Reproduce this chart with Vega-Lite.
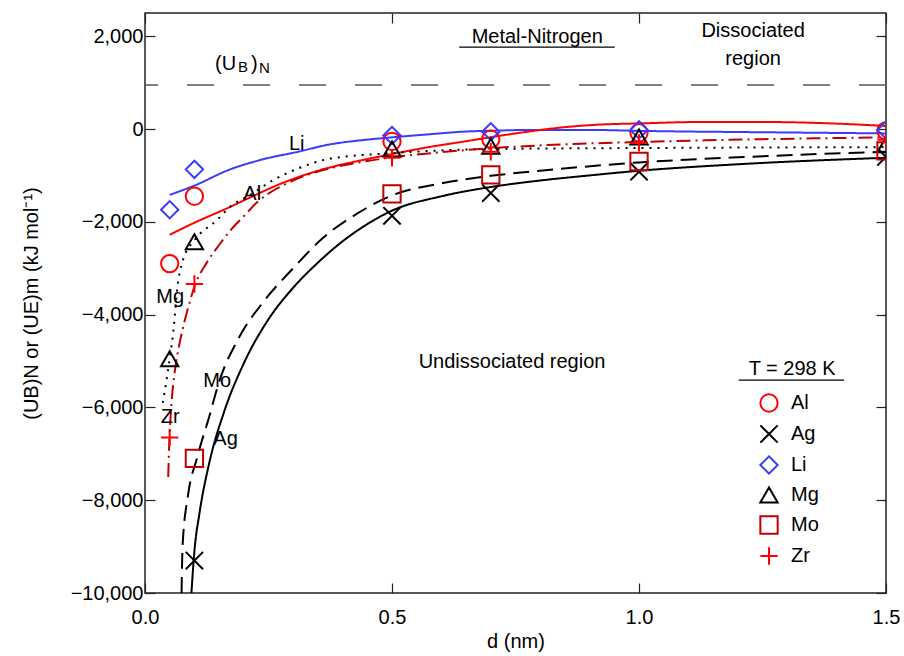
{
  "$schema": "https://vega.github.io/schema/vega-lite/v6.json",
  "width": 741,
  "height": 580,
  "autosize": {"type": "none"},
  "padding": {"left": 145, "top": 13, "right": 18, "bottom": 63},
  "background": "white",
  "config": {
    "font": "Liberation Sans",
    "view": {"stroke": "#222", "strokeWidth": 1.5},
    "axis": {"labelFont": "Liberation Sans", "titleFont": "Liberation Sans", "labelFontSize": 20, "titleFontSize": 20, "labelColor": "#000", "titleColor": "#000", "tickColor": "#222", "domainColor": "#222", "grid": false, "titleFontWeight": "normal", "tickWidth": 1.2, "domain": false, "labelFlush": false},
    "legend": {"labelFont": "Liberation Sans", "labelFontSize": 20, "labelColor": "#000"}
  },
  "datasets": {
    "pts": [
      {"metal": "Al", "d": 0.05, "U": -2900}, {"metal": "Al", "d": 0.1, "U": -1450}, {"metal": "Al", "d": 0.5, "U": -270}, {"metal": "Al", "d": 0.7, "U": -220}, {"metal": "Al", "d": 1.0, "U": -80}, {"metal": "Al", "d": 1.5, "U": -40},
      {"metal": "Ag", "d": 0.1, "U": -9300}, {"metal": "Ag", "d": 0.5, "U": -1870}, {"metal": "Ag", "d": 0.7, "U": -1380}, {"metal": "Ag", "d": 1.0, "U": -920}, {"metal": "Ag", "d": 1.5, "U": -600},
      {"metal": "Li", "d": 0.05, "U": -1740}, {"metal": "Li", "d": 0.1, "U": -870}, {"metal": "Li", "d": 0.5, "U": -140}, {"metal": "Li", "d": 0.7, "U": -60}, {"metal": "Li", "d": 1.0, "U": -20}, {"metal": "Li", "d": 1.5, "U": -20},
      {"metal": "Mg", "d": 0.05, "U": -4950}, {"metal": "Mg", "d": 0.1, "U": -2430}, {"metal": "Mg", "d": 0.5, "U": -430}, {"metal": "Mg", "d": 0.7, "U": -370}, {"metal": "Mg", "d": 1.0, "U": -170}, {"metal": "Mg", "d": 1.5, "U": -340},
      {"metal": "Mo", "d": 0.1, "U": -7100}, {"metal": "Mo", "d": 0.5, "U": -1400}, {"metal": "Mo", "d": 0.7, "U": -990}, {"metal": "Mo", "d": 1.0, "U": -700}, {"metal": "Mo", "d": 1.5, "U": -470},
      {"metal": "Zr", "d": 0.05, "U": -6650}, {"metal": "Zr", "d": 0.1, "U": -3340}, {"metal": "Zr", "d": 0.5, "U": -620}, {"metal": "Zr", "d": 0.7, "U": -490}, {"metal": "Zr", "d": 1.0, "U": -300}, {"metal": "Zr", "d": 1.5, "U": -230}
    ],
    "curves": [
      {"curve": "Li", "d": 0.05, "U": -1420}, {"curve": "Li", "d": 0.1, "U": -1220}, {"curve": "Li", "d": 0.17, "U": -880}, {"curve": "Li", "d": 0.24, "U": -650}, {"curve": "Li", "d": 0.31, "U": -490}, {"curve": "Li", "d": 0.37, "U": -340}, {"curve": "Li", "d": 0.44, "U": -240}, {"curve": "Li", "d": 0.5, "U": -180}, {"curve": "Li", "d": 0.58, "U": -110}, {"curve": "Li", "d": 0.64, "U": -60}, {"curve": "Li", "d": 0.71, "U": -35}, {"curve": "Li", "d": 0.78, "U": -20}, {"curve": "Li", "d": 0.9, "U": -20}, {"curve": "Li", "d": 1.0, "U": -40}, {"curve": "Li", "d": 1.1, "U": -55}, {"curve": "Li", "d": 1.2, "U": -65}, {"curve": "Li", "d": 1.3, "U": -75}, {"curve": "Li", "d": 1.4, "U": -85}, {"curve": "Li", "d": 1.5, "U": -95},
      {"curve": "Al", "d": 0.05, "U": -2280}, {"curve": "Al", "d": 0.1, "U": -2020}, {"curve": "Al", "d": 0.17, "U": -1690}, {"curve": "Al", "d": 0.21, "U": -1490}, {"curve": "Al", "d": 0.27, "U": -1200}, {"curve": "Al", "d": 0.37, "U": -840}, {"curve": "Al", "d": 0.44, "U": -670}, {"curve": "Al", "d": 0.5, "U": -540}, {"curve": "Al", "d": 0.58, "U": -380}, {"curve": "Al", "d": 0.64, "U": -280}, {"curve": "Al", "d": 0.71, "U": -160}, {"curve": "Al", "d": 0.78, "U": -50}, {"curve": "Al", "d": 0.85, "U": 40}, {"curve": "Al", "d": 0.92, "U": 95}, {"curve": "Al", "d": 1.0, "U": 120}, {"curve": "Al", "d": 1.12, "U": 150}, {"curve": "Al", "d": 1.26, "U": 150}, {"curve": "Al", "d": 1.39, "U": 120}, {"curve": "Al", "d": 1.5, "U": 65},
      {"curve": "Mg", "d": 0.036, "U": -5900}, {"curve": "Mg", "d": 0.05, "U": -4950}, {"curve": "Mg", "d": 0.058, "U": -4300}, {"curve": "Mg", "d": 0.065, "U": -3460}, {"curve": "Mg", "d": 0.077, "U": -2820}, {"curve": "Mg", "d": 0.1, "U": -2400}, {"curve": "Mg", "d": 0.146, "U": -1960}, {"curve": "Mg", "d": 0.172, "U": -1680}, {"curve": "Mg", "d": 0.213, "U": -1420}, {"curve": "Mg", "d": 0.26, "U": -1100}, {"curve": "Mg", "d": 0.31, "U": -850}, {"curve": "Mg", "d": 0.374, "U": -640}, {"curve": "Mg", "d": 0.5, "U": -520}, {"curve": "Mg", "d": 0.71, "U": -430}, {"curve": "Mg", "d": 1.0, "U": -410}, {"curve": "Mg", "d": 1.5, "U": -390},
      {"curve": "Zr", "d": 0.047, "U": -7500}, {"curve": "Zr", "d": 0.049, "U": -6800}, {"curve": "Zr", "d": 0.053, "U": -6000}, {"curve": "Zr", "d": 0.06, "U": -5250}, {"curve": "Zr", "d": 0.07, "U": -4620}, {"curve": "Zr", "d": 0.08, "U": -4150}, {"curve": "Zr", "d": 0.09, "U": -3750}, {"curve": "Zr", "d": 0.1, "U": -3400}, {"curve": "Zr", "d": 0.125, "U": -2880}, {"curve": "Zr", "d": 0.15, "U": -2500}, {"curve": "Zr", "d": 0.175, "U": -2160}, {"curve": "Zr", "d": 0.2, "U": -1880}, {"curve": "Zr", "d": 0.227, "U": -1580}, {"curve": "Zr", "d": 0.25, "U": -1390}, {"curve": "Zr", "d": 0.273, "U": -1250}, {"curve": "Zr", "d": 0.32, "U": -1020}, {"curve": "Zr", "d": 0.374, "U": -850}, {"curve": "Zr", "d": 0.45, "U": -690}, {"curve": "Zr", "d": 0.5, "U": -610}, {"curve": "Zr", "d": 0.6, "U": -500}, {"curve": "Zr", "d": 0.72, "U": -400}, {"curve": "Zr", "d": 0.85, "U": -330}, {"curve": "Zr", "d": 1.0, "U": -280}, {"curve": "Zr", "d": 1.25, "U": -220}, {"curve": "Zr", "d": 1.5, "U": -180},
      {"curve": "Mo", "d": 0.074, "U": -10000}, {"curve": "Mo", "d": 0.076, "U": -9000}, {"curve": "Mo", "d": 0.087, "U": -7900}, {"curve": "Mo", "d": 0.105, "U": -7100}, {"curve": "Mo", "d": 0.13, "U": -6200}, {"curve": "Mo", "d": 0.15, "U": -5450}, {"curve": "Mo", "d": 0.19, "U": -4500}, {"curve": "Mo", "d": 0.24, "U": -3720}, {"curve": "Mo", "d": 0.3, "U": -3000}, {"curve": "Mo", "d": 0.36, "U": -2350}, {"curve": "Mo", "d": 0.43, "U": -1820}, {"curve": "Mo", "d": 0.5, "U": -1430}, {"curve": "Mo", "d": 0.6, "U": -1170}, {"curve": "Mo", "d": 0.7, "U": -1010}, {"curve": "Mo", "d": 0.8, "U": -900}, {"curve": "Mo", "d": 1.0, "U": -720}, {"curve": "Mo", "d": 1.2, "U": -610}, {"curve": "Mo", "d": 1.5, "U": -490},
      {"curve": "Ag", "d": 0.094, "U": -10000}, {"curve": "Ag", "d": 0.1, "U": -9100}, {"curve": "Ag", "d": 0.11, "U": -8300}, {"curve": "Ag", "d": 0.13, "U": -7200}, {"curve": "Ag", "d": 0.16, "U": -6100}, {"curve": "Ag", "d": 0.2, "U": -5050}, {"curve": "Ag", "d": 0.25, "U": -4100}, {"curve": "Ag", "d": 0.3, "U": -3420}, {"curve": "Ag", "d": 0.35, "U": -2880}, {"curve": "Ag", "d": 0.4, "U": -2420}, {"curve": "Ag", "d": 0.45, "U": -2050}, {"curve": "Ag", "d": 0.5, "U": -1760}, {"curve": "Ag", "d": 0.6, "U": -1450}, {"curve": "Ag", "d": 0.7, "U": -1250}, {"curve": "Ag", "d": 0.8, "U": -1110}, {"curve": "Ag", "d": 0.9, "U": -1000}, {"curve": "Ag", "d": 1.0, "U": -900}, {"curve": "Ag", "d": 1.2, "U": -760}, {"curve": "Ag", "d": 1.5, "U": -620}
    ],
    "labels": [
      {"d": 0.307, "U": -320, "text": "Li"},
      {"d": 0.217, "U": -1400, "text": "Al"},
      {"d": 0.051, "U": -3610, "text": "Mg"},
      {"d": 0.146, "U": -5440, "text": "Mo"},
      {"d": 0.051, "U": -6215, "text": "Zr"},
      {"d": 0.163, "U": -6690, "text": "Ag"},
      {"d": 0.794, "U": 1978, "text": "Metal-Nitrogen"},
      {"d": 1.231, "U": 2108, "text": "Dissociated"},
      {"d": 1.231, "U": 1505, "text": "region"},
      {"d": 0.743, "U": -5011, "text": "Undissociated region"},
      {"d": 1.31, "U": -5183, "text": "T = 298 K"}
    ],
    "underlines": [
      {"d": 0.636, "d2": 0.951, "U": 1763},
      {"d": 1.202, "d2": 1.415, "U": -5413}
    ],
    "ubMain": [
      {"d": 0.1417, "U": 1269, "text": "(U"},
      {"d": 0.2146, "U": 1269, "text": ")"}
    ],
    "ubSub": [
      {"d": 0.1883, "U": 1226, "text": "B"},
      {"d": 0.2308, "U": 1204, "text": "N"}
    ]
  },
  "layer": [
    {
      "data": {"values": [{"U": 950}]},
      "mark": {"type": "rule", "color": "#555", "strokeWidth": 1.5, "strokeDash": [27, 29]},
      "encoding": {
        "y": {"field": "U", "type": "quantitative", "scale": {"domain": [-10000, 2500], "nice": false}, "axis": null}
      }
    },
    {
      "data": {"name": "curves"},
      "mark": {"type": "line", "interpolate": "monotone", "strokeWidth": 2, "clip": true},
      "encoding": {
        "x": {"field": "d", "type": "quantitative", "scale": {"domain": [0, 1.5], "nice": false}, "axis": null},
        "y": {"field": "U", "type": "quantitative", "scale": {"domain": [-10000, 2500], "nice": false}, "axis": null},
        "detail": {"field": "curve"},
        "stroke": {"field": "curve", "type": "nominal", "scale": {"domain": ["Li", "Al", "Mg", "Zr", "Mo", "Ag"], "range": ["#3a3aff", "#ff0000", "#000000", "#c00000", "#000000", "#000000"]}, "legend": null},
        "strokeDash": {"field": "curve", "type": "nominal", "scale": {"domain": ["Li", "Al", "Mg", "Zr", "Mo", "Ag"], "range": [[1, 0], [1, 0], [2, 6], [14, 5, 2, 5], [16, 8], [1, 0]]}, "legend": null}
      }
    },
    {
      "data": {"name": "pts"},
      "mark": {"type": "point", "filled": false, "strokeWidth": 2, "size": 300, "clip": true, "opacity": 1},
      "encoding": {
        "x": {"field": "d", "type": "quantitative", "scale": {"domain": [0, 1.5], "nice": false}, "title": "d (nm)", "axis": {"values": [0, 0.5, 1, 1.5], "format": ".1f", "tickSize": -10, "labelPadding": 24, "titlePadding": 4}},
        "y": {"field": "U", "type": "quantitative", "scale": {"domain": [-10000, 2500], "nice": false}, "title": "(UB)N or (UE)m (kJ mol⁻¹)", "axis": {"values": [-10000, -8000, -6000, -4000, -2000, 0, 2000], "format": ",.0f", "tickSize": -10, "labelPadding": 12, "titlePadding": 29}},
        "color": {"field": "metal", "type": "nominal", "scale": {"domain": ["Al", "Ag", "Li", "Mg", "Mo", "Zr"], "range": ["#ff0000", "#000000", "#3a3aff", "#000000", "#c00000", "#ff0000"]}, "legend": {"title": null, "orient": "none", "legendX": 614, "legendY": 380, "padding": 0, "rowPadding": 5, "labelOffset": 12, "symbolSize": 300, "symbolStrokeWidth": 2, "encode": {"symbols": {"shape": {"value": {"expr": "datum.value === 'Ag' ? 'M-1,-1L1,1M-1,1L1,-1M-2,0L2,0' : datum.value === 'Mo' ? 'M-1,-1L1,-1L1,1L-1,1ZM-2,0L2,0' : scale('shape', datum.value)"}}}}}},
        "shape": {"field": "metal", "type": "nominal", "scale": {"domain": ["Al", "Ag", "Li", "Mg", "Mo", "Zr"], "range": ["circle", "M-1,-1L1,1M-1,1L1,-1", "diamond", "triangle-up", "square", "M-1,0L1,0M0,-1L0,1"]}, "legend": {"title": null, "orient": "none", "legendX": 614, "legendY": 380, "padding": 0, "rowPadding": 5, "labelOffset": 12, "symbolSize": 300, "symbolStrokeWidth": 2, "encode": {"symbols": {"shape": {"value": {"expr": "datum.value === 'Ag' ? 'M-1,-1L1,1M-1,1L1,-1M-2,0L2,0' : datum.value === 'Mo' ? 'M-1,-1L1,-1L1,1L-1,1ZM-2,0L2,0' : scale('shape', datum.value)"}}}}}}
      }
    },
    {
      "data": {"values": [{"d": 0, "U": 0}]},
      "mark": {"type": "point", "opacity": 0},
      "encoding": {
        "x": {"field": "d", "type": "quantitative", "scale": {"domain": [0, 1.5], "nice": false}, "axis": {"orient": "top", "values": [0, 0.5, 1, 1.5], "labels": false, "tickSize": -10, "title": null}},
        "y": {"field": "U", "type": "quantitative", "scale": {"domain": [-10000, 2500], "nice": false}, "axis": {"orient": "right", "values": [-10000, -8000, -6000, -4000, -2000, 0, 2000], "labels": false, "tickSize": -10, "title": null}}
      }
    },
    {
      "data": {"name": "labels"},
      "mark": {"type": "text", "fontSize": 20, "align": "center", "baseline": "middle", "color": "#000"},
      "encoding": {
        "x": {"field": "d", "type": "quantitative", "scale": {"domain": [0, 1.5], "nice": false}, "axis": null},
        "y": {"field": "U", "type": "quantitative", "scale": {"domain": [-10000, 2500], "nice": false}, "axis": null},
        "text": {"field": "text"}
      }
    },
    {
      "data": {"name": "underlines"},
      "mark": {"type": "rule", "color": "#000", "strokeWidth": 1.3},
      "encoding": {
        "x": {"field": "d", "type": "quantitative", "scale": {"domain": [0, 1.5], "nice": false}, "axis": null},
        "x2": {"field": "d2"},
        "y": {"field": "U", "type": "quantitative", "scale": {"domain": [-10000, 2500], "nice": false}, "axis": null}
      }
    },
    {
      "data": {"name": "ubMain"},
      "mark": {"type": "text", "fontSize": 20, "align": "left", "baseline": "alphabetic", "color": "#000"},
      "encoding": {
        "x": {"field": "d", "type": "quantitative", "scale": {"domain": [0, 1.5], "nice": false}, "axis": null},
        "y": {"field": "U", "type": "quantitative", "scale": {"domain": [-10000, 2500], "nice": false}, "axis": null},
        "text": {"field": "text"}
      }
    },
    {
      "data": {"name": "ubSub"},
      "mark": {"type": "text", "fontSize": 15, "align": "left", "baseline": "alphabetic", "color": "#000"},
      "encoding": {
        "x": {"field": "d", "type": "quantitative", "scale": {"domain": [0, 1.5], "nice": false}, "axis": null},
        "y": {"field": "U", "type": "quantitative", "scale": {"domain": [-10000, 2500], "nice": false}, "axis": null},
        "text": {"field": "text"}
      }
    }
  ],
  "resolve": {"axis": {"x": "independent", "y": "independent"}}
}
